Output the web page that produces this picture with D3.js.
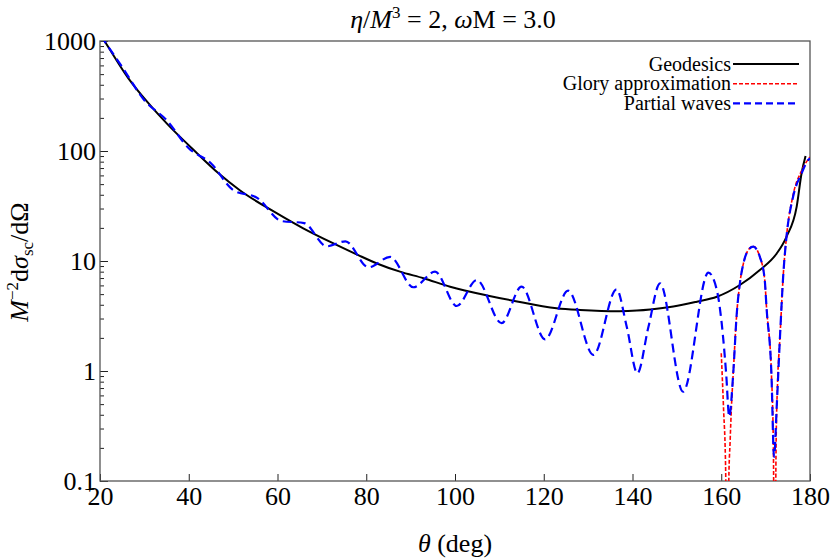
<!DOCTYPE html>
<html><head><meta charset="utf-8">
<script src="https://cdn.jsdelivr.net/npm/d3@7"></script>
<style>
body{margin:0;background:#fff}
svg{display:block}
text{font-family:"Liberation Serif","Times New Roman",serif;fill:#000}
</style>
</head><body>
<svg id="c" width="830" height="560"></svg>
<script>
// ---- data ----
const geoTheta = [20.2, 21, 26.4, 30.9, 35.4, 40.7, 46.7, 51.5, 59.8, 65.8, 73.3, 78.2, 82.4, 87.6, 92.9, 98.9, 107.5, 113.1, 122.9, 128.2, 133, 137, 141, 144, 149.2, 154.5, 159, 164.2, 168.7, 172.5, 174.7, 177, 178.1, 179];
const geoValue = [1120, 1000, 458, 272, 172, 106, 62.7, 44, 27.2, 19.8, 14.0, 11.3, 9.5, 8.0, 6.97, 5.84, 4.84, 4.36, 3.72, 3.59, 3.52, 3.50, 3.54, 3.62, 3.85, 4.27, 4.73, 6.05, 8.28, 11.7, 16.6, 31.2, 62.7, 90];

const gloryTheta = [160.0, 160.5, 161.0, 161.35, 161.7, 162.0, 162.3, 162.7, 163.5, 164.2, 165.0, 166.1, 167.2, 168.7, 169.8, 170.2, 171.3, 171.75, 172.05, 172.35, 172.7, 173.2, 174.0, 174.7, 176.2, 178.1, 179.6, 180];
const gloryValue = [1.45, 0.474, 0.12, 0.003, 0.1, 0.23, 0.474, 0.953, 3.35, 6.27, 9.53, 12.6, 13.6, 10.9, 6.71, 3.79, 0.953, 0.2, 0.003, 0.2, 0.8, 1.91, 7.73, 16.6, 40, 66, 84, 88];

const waveTheta = [20.2, 21, 25, 30, 35, 40, 45, 50, 55.5, 60.9, 66, 71.1, 75.3, 80.5, 85.4, 90.6, 95.5, 100.4, 104.9, 110.5, 115.0, 120.3, 125.5, 131.2, 136.4, 138.7, 141.1, 143.6, 146.2, 151.4, 157.1, 159.0, 160.1, 161.1, 161.8, 162.7, 163.5, 164.2, 165.0, 166.1, 167.2, 168.7, 169.8, 170.2, 171.3, 171.9, 172.5, 173.2, 174.0, 174.7, 176.2, 178.1, 179.6, 180];
const waveValue = [1120, 1000, 580, 289, 191, 106, 77.4, 44.2, 37.3, 23.1, 22.1, 13.6, 15.1, 8.77, 10.9, 5.77, 8.0, 3.90, 6.71, 2.72, 5.84, 1.94, 5.37, 1.40, 5.53, 2.53, 0.953, 2.53, 6.27, 0.648, 7.83, 5.45, 2.72, 0.953, 0.385, 0.953, 3.35, 6.27, 9.53, 12.6, 13.5, 10.9, 6.71, 3.79, 0.953, 0.166, 0.474, 1.91, 7.73, 16.6, 38.5, 62.7, 82.8, 86];

const xTicks = [20, 40, 60, 80, 100, 120, 140, 160, 180];
const yTicks = [0.1, 1, 10, 100, 1000];
const yTickLabels = ["0.1", "1", "10", "100", "1000"];
const legendLabels = ["Geodesics", "Glory approximation", "Partial waves"];

// ---- layout ----
const L = 100, R = 810, T = 41, B = 481;
const svg = d3.select("#c");
const x = d3.scaleLinear().domain([20, 180]).range([L, R]);
const y = d3.scaleLog().domain([0.1, 1000]).range([B, T]);

const yMinor = [];
[0.1, 1, 10, 100].forEach(d => { for (let k = 2; k <= 9; k++) yMinor.push(d * k); });

svg.append("defs").append("clipPath").attr("id", "clip")
  .append("rect").attr("x", L).attr("y", T).attr("width", R - L).attr("height", B - T);

const frameColor = "#555";
// axes
const gx = svg.append("g").attr("transform", `translate(0,${B})`)
  .call(d3.axisBottom(x).tickValues(xTicks).tickFormat(d3.format("d")).tickSizeInner(-7).tickSizeOuter(0).tickPadding(6));
gx.select(".domain").remove();
gx.selectAll(".tick line").attr("stroke", "#222").attr("stroke-width", 1);
gx.selectAll("text").attr("font-size", 26).attr("font-family", "Liberation Serif, serif");

const gy = svg.append("g").attr("transform", `translate(${L},0)`)
  .call(d3.axisLeft(y).tickValues(yTicks).tickFormat((d, i) => yTickLabels[i]).tickSizeInner(-8).tickSizeOuter(0).tickPadding(4));
gy.select(".domain").remove();
gy.selectAll(".tick line").attr("stroke", "#222").attr("stroke-width", 1);
gy.selectAll("text").attr("font-size", 26).attr("font-family", "Liberation Serif, serif");

const gym = svg.append("g").attr("transform", `translate(${L},0)`)
  .call(d3.axisLeft(y).tickValues(yMinor).tickFormat("").tickSizeInner(-4).tickSizeOuter(0));
gym.select(".domain").remove();
gym.selectAll(".tick line").attr("stroke", "#222").attr("stroke-width", 1);

// frame
svg.append("rect").attr("x", L).attr("y", T).attr("width", R - L).attr("height", B - T)
  .attr("fill", "none").attr("stroke", frameColor).attr("stroke-width", 1.3);

// lines
const plot = svg.append("g").attr("clip-path", "url(#clip)");
const line = d3.line().x(d => x(d[0])).y(d => y(d[1])).curve(d3.curveMonotoneX);

plot.append("path").datum(d3.zip(geoTheta, geoValue))
  .attr("d", line).attr("fill", "none").attr("stroke", "#000").attr("stroke-width", 2);
plot.append("path").datum(d3.zip(gloryTheta, gloryValue))
  .attr("d", line).attr("fill", "none").attr("stroke", "#ff0000").attr("stroke-width", 1.6).attr("stroke-dasharray", "4,2");
plot.append("path").datum(d3.zip(waveTheta, waveValue))
  .attr("d", line).attr("fill", "none").attr("stroke", "#0000ff").attr("stroke-width", 2.2).attr("stroke-dasharray", "9,5");

// legend
const legStyles = [
  {c: "#000", w: 2, dash: null},
  {c: "#ff0000", w: 1.6, dash: "4,2"},
  {c: "#0000ff", w: 2.2, dash: "7,4"}
];
const leg = svg.append("g");
legendLabels.forEach((t, i) => {
  const yy = 64 + i * 19.7;
  leg.append("text").attr("x", 731).attr("y", yy).attr("dy", "0.33em").attr("text-anchor", "end")
    .attr("font-size", 20).text(t);
  const ln = leg.append("line").attr("x1", 733).attr("x2", 799).attr("y1", yy).attr("y2", yy)
    .attr("stroke", legStyles[i].c).attr("stroke-width", legStyles[i].w);
  if (legStyles[i].dash) ln.attr("stroke-dasharray", legStyles[i].dash);
});

// title
const title = svg.append("text").attr("x", 453).attr("y", 28).attr("text-anchor", "middle").attr("font-size", 26);
title.append("tspan").attr("font-style", "italic").text("η");
title.append("tspan").text("/");
title.append("tspan").attr("font-style", "italic").text("M");
title.append("tspan").attr("font-size", 17).attr("dy", -10).text("3");
title.append("tspan").attr("dy", 10).text(" = 2, ");
title.append("tspan").attr("font-style", "italic").text("ω");
title.append("tspan").text("M = 3.0");

// x label
const xl = svg.append("text").attr("x", 455).attr("y", 552).attr("text-anchor", "middle").attr("font-size", 26);
xl.append("tspan").attr("font-style", "italic").text("θ");
xl.append("tspan").text(" (deg)");

// y label
const yl = svg.append("text").attr("transform", "translate(28,262) rotate(-90)").attr("text-anchor", "middle").attr("font-size", 26);
yl.append("tspan").attr("font-style", "italic").text("M");
yl.append("tspan").attr("font-size", 17).attr("dy", -10).text("−2");
yl.append("tspan").attr("dy", 10).text("d");
yl.append("tspan").attr("font-style", "italic").text("σ");
yl.append("tspan").attr("font-size", 17).attr("dy", 5).text("sc");
yl.append("tspan").attr("dy", -5).text("/dΩ");
</script>
</body></html>
